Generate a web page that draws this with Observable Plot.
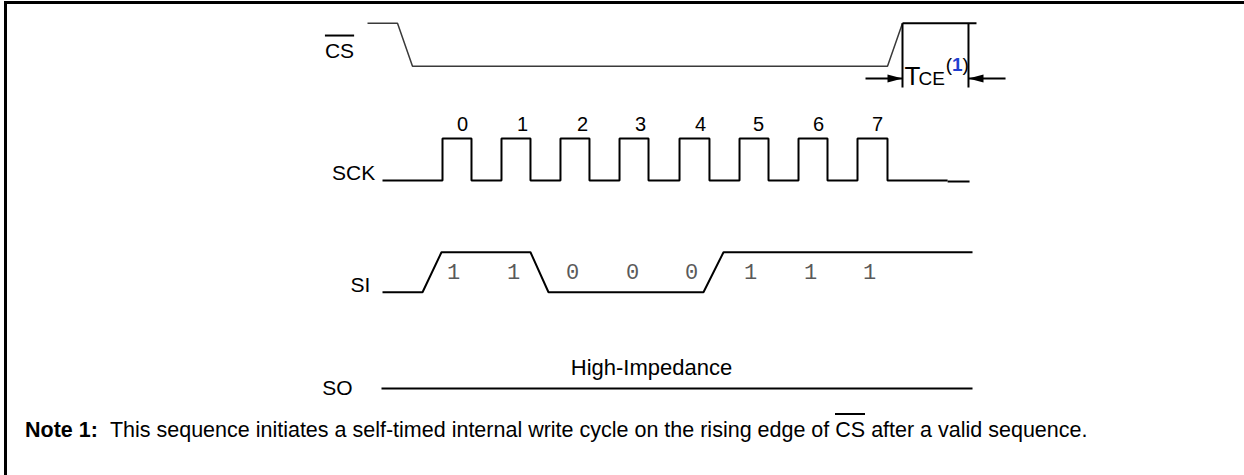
<!DOCTYPE html>
<html><head><meta charset="utf-8">
<script src="https://cdn.jsdelivr.net/npm/d3@7"></script>
<script src="https://cdn.jsdelivr.net/npm/@observablehq/plot@0.6"></script>
<style>
html,body{margin:0;padding:0;background:#fff;overflow:hidden;width:1244px;height:475px;}
#chart{position:absolute;left:0;top:0;}
#frame{position:absolute;left:4px;top:1px;width:1300px;height:600px;border-left:3px solid #000;border-top:3px solid #000;pointer-events:none;}
#note{position:absolute;left:25px;top:419px;font-family:"Liberation Sans",Arial,sans-serif;font-size:21.5px;line-height:23px;white-space:nowrap;color:#000;}
#note b{margin-right:12px}
#note .ol{border-top:2px solid #000;padding-top:3px}
</style></head><body>
<div id="chart"></div>
<div id="note"></div>
<div id="frame"></div>
<script>
// ---- data (time in SCK clock periods, level 0 = low, 1 = high) ----
const rowNames = ["CS", "SCK", "SI", "SO"];
const csTimes  = [-1.265, -0.759, -0.506, 7.506, 7.759];
const csLevels = [1, 1, 0, 0, 1];
const csHighTimes = [7.759, 9.007];
const sckStart = -1.012, sckEnd = 8.52;
const sckRise = [0, 0.995, 1.99, 2.986, 3.998, 5.01, 6.005, 7];
const sckFall = [0.489, 1.484, 2.479, 3.475, 4.503, 5.499, 6.494, 7.506];
const sckTailTimes = [8.52, 8.89];
const sckLabels = ["0", "1", "2", "3", "4", "5", "6", "7"];
const sckLabelTimes = [0.337, 1.349, 2.361, 3.339, 4.352, 5.33, 6.342, 7.337];
const siTimes  = [-1.012, -0.337, -0.017, 1.484, 1.788, 4.402, 4.74, 8.94];
const siLevels = [0, 0, 1, 1, 0, 0, 1, 1];
const siBits = ["1", "1", "0", "0", "0", "1", "1", "1"];
const siBitTimes = [0.186, 1.198, 2.193, 3.205, 4.2, 5.195, 6.207, 7.202];
const soTimes = [-1.029, 8.94];
const soText = "High-Impedance";
const soTextTime = 3.525;
const tceEdges = [7.759, 8.872];
const tceArrowTails = [7.135, 9.497];
const noteLabel = "Note 1:";
const notePre = "This sequence initiates a self-timed internal write cycle on the rising edge of ";
const noteSignal = "CS";
const notePost = " after a valid sequence.";

// ---- layout ----
const rowBase = [2.721, 0, -2.66, -4.952];
const rowAmp  = [1.024, 1, 0.952, 1];
const rowLabelTime  = [-1.737, -1.50, -1.383, -1.771];
const rowLabelLevel = [0.202, 0.02, 0.0, -0.167];
const Y = (r, lv) => rowBase[r] + rowAmp[r] * lv;
const font = "Liberation Sans, Arial, sans-serif";

// ---- build point lists ----
const csPts = csTimes.map((t, i) => ({t, v: Y(0, csLevels[i])}));
const csHigh = csHighTimes.map(t => ({t, v: Y(0, 1)}));
const sckPts = [{t: sckStart, v: 0}];
sckRise.forEach((r, i) => {
  sckPts.push({t: r, v: 0}, {t: r, v: 1}, {t: sckFall[i], v: 1}, {t: sckFall[i], v: 0});
});
sckPts.push({t: sckEnd, v: 0});
const sckTail = sckTailTimes.map(t => ({t, v: -0.024}));
const siPts = siTimes.map((t, i) => ({t, v: Y(2, siLevels[i])}));
const soPts = soTimes.map(t => ({t, v: Y(3, 0)}));
const tceLines = tceEdges.map(t => ({t, v1: Y(0, 1), v2: Y(0, -0.495)}));
const arrows = tceEdges.map((t, i) => ({from: tceArrowTails[i], to: t, v: Y(0, -0.286), dir: i}));

const headRight = {draw(c) { c.moveTo(0, 0); c.lineTo(-15, -4); c.lineTo(-15, 4); c.closePath(); }};
const headLeft  = {draw(c) { c.moveTo(0, 0); c.lineTo(15, -4); c.lineTo(15, 4); c.closePath(); }};

const lineOpts = {x: "t", y: "v", strokeLinejoin: "miter", strokeLinecap: "butt"};
const txt = {fontFamily: font, fontSize: 21, fill: "#000", lineAnchor: "bottom"};

const plot = Plot.plot({
  width: 1244, height: 405,
  marginTop: 0, marginRight: 0, marginBottom: 0, marginLeft: 0,
  x: {domain: [0, 7], range: [442, 857], axis: null},
  y: {domain: [0, 1], range: [180, 138], axis: null},
  style: {background: "transparent"},
  marks: [
    Plot.line(csPts, {...lineOpts, stroke: "#3a3a3a", strokeWidth: 1.5}),
    Plot.line(csHigh, {...lineOpts, stroke: "#000", strokeWidth: 2}),
    Plot.link(tceLines, {x1: "t", x2: "t", y1: "v1", y2: "v2", stroke: "#000", strokeWidth: 2}),
    Plot.link(arrows, {x1: "from", x2: "to", y1: "v", y2: "v", stroke: "#000", strokeWidth: 2}),
    Plot.dot(arrows.filter(a => a.dir === 0), {x: "to", y: "v", symbol: headRight, r: 6, fill: "#000", stroke: null}),
    Plot.dot(arrows.filter(a => a.dir === 1), {x: "to", y: "v", symbol: headLeft, r: 6, fill: "#000", stroke: null}),
    Plot.line(sckPts, {...lineOpts, stroke: "#000", strokeWidth: 2}),
    Plot.line(sckTail, {...lineOpts, stroke: "#000", strokeWidth: 2}),
    Plot.text(sckLabels, {...txt, fontSize: 20, x: (d, i) => sckLabelTimes[i], y: () => Y(1, 1.167), text: d => d, textAnchor: "middle"}),
    Plot.line(siPts, {...lineOpts, stroke: "#000", strokeWidth: 2}),
    Plot.text(siBits, {...txt, fontFamily: "Liberation Mono, Courier New, monospace", fontSize: 22, fill: "#5a5a5a",
      x: (d, i) => siBitTimes[i], y: () => Y(2, 0.335), text: d => d, textAnchor: "middle"}),
    Plot.line(soPts, {...lineOpts, stroke: "#000", strokeWidth: 2}),
    Plot.text([soText], {...txt, fontSize: 22, x: () => soTextTime, y: () => Y(3, 0.31), text: d => d, textAnchor: "middle"}),
    Plot.text(rowNames, {...txt, x: (d, i) => rowLabelTime[i], y: (d, i) => Y(i, rowLabelLevel[i]), text: d => d, textAnchor: "middle"}),
    Plot.text(["T"], {...txt, fontSize: 26, x: () => 7.793, y: () => Y(0, -0.44), text: d => d, textAnchor: "start"}),
    Plot.text(["CE"], {...txt, fontSize: 19, x: () => 8.03, y: () => Y(0, -0.44), text: d => d, textAnchor: "start"}),
    Plot.text(["("], {...txt, fontSize: 19, x: () => 8.49, y: () => Y(0, -0.12), text: d => d, textAnchor: "start"}),
    Plot.text(["1"], {...txt, fontSize: 19, fontWeight: "bold", fill: "#1f3fd0", x: () => 8.593, y: () => Y(0, -0.12), text: d => d, textAnchor: "start"}),
    Plot.text([")"], {...txt, fontSize: 19, x: () => 8.77, y: () => Y(0, -0.12), text: d => d, textAnchor: "start"})
  ]
});
document.getElementById("chart").append(plot);

// overline on the CS row label
const svgRect = plot.getBoundingClientRect();
plot.querySelectorAll("text").forEach(t => {
  if (t.textContent === "CS") {
    const r = t.getBoundingClientRect();
    const ln = document.createElementNS("http://www.w3.org/2000/svg", "line");
    const yy = r.top - svgRect.top - 3;
    ln.setAttribute("x1", r.left - svgRect.left);
    ln.setAttribute("x2", r.right - svgRect.left);
    ln.setAttribute("y1", yy);
    ln.setAttribute("y2", yy);
    ln.setAttribute("stroke", "#000");
    ln.setAttribute("stroke-width", 2);
    plot.appendChild(ln);
  }
});

// note below the chart
const note = document.getElementById("note");
const b = document.createElement("b"); b.textContent = noteLabel;
const sig = document.createElement("span"); sig.className = "ol"; sig.textContent = noteSignal;
note.append(b, document.createTextNode(notePre), sig, document.createTextNode(notePost));
</script></body></html>
